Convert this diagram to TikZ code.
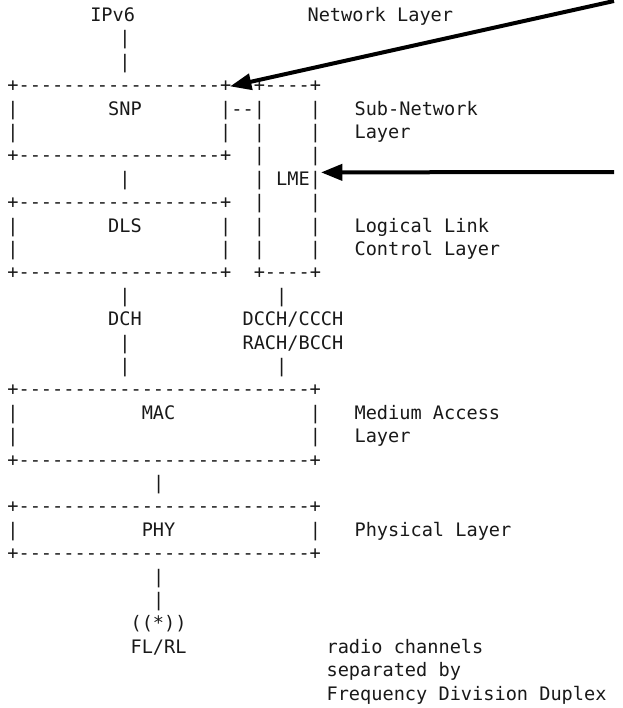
\documentclass[tikz,border=0pt]{standalone}
\usepackage{fontspec}
\setmonofont{DejaVu Sans Mono}
\usetikzlibrary{arrows.meta}
\tikzset{
  asc/.style={anchor=base west, inner sep=0pt, outer sep=0pt, text=black!90,
    font=\ttfamily\fontsize{13.95}{16}\selectfont},
  bigarrow/.style={line width=3pt, -{Triangle[length=16pt,width=12pt]}},
}
\newcommand\asc[3]{\node[asc] (r#2c#1) at ({7.4+11.2*#1},{21.5+23.4*#2}) {#3};}
\begin{document}
\begin{tikzpicture}[x=0.75pt,y=-0.75pt]
\useasboundingbox (0,0) rectangle (623,708);
% row 0
\asc{7.4}{0}{IPv6}\asc{26.8}{0}{Network Layer}
\asc{10}{1}{|}
\asc{10}{2}{|}
% SNP box and LME box
\asc{0}{3}{+------------------+}\asc{22}{3}{+----+}
\asc{0}{4}{|}\asc{9}{4}{SNP}\asc{19}{4}{|--|}\asc{27}{4}{|}\asc{31}{4}{Sub-Network}
\asc{0}{5}{|}\asc{19}{5}{|}\asc{22}{5}{|}\asc{27}{5}{|}\asc{31}{5}{Layer}
\asc{0}{6}{+------------------+}\asc{22}{6}{|}\asc{27}{6}{|}
\asc{10}{7}{|}\asc{22}{7}{|}\asc{24}{7}{LME|}
\asc{0}{8}{+------------------+}\asc{22}{8}{|}\asc{27}{8}{|}
\asc{0}{9}{|}\asc{9}{9}{DLS}\asc{19}{9}{|}\asc{22}{9}{|}\asc{27}{9}{|}\asc{31}{9}{Logical Link}
\asc{0}{10}{|}\asc{19}{10}{|}\asc{22}{10}{|}\asc{27}{10}{|}\asc{31}{10}{Control Layer}
\asc{0}{11}{+------------------+}\asc{22}{11}{+----+}
% channels
\asc{10}{12}{|}\asc{24}{12}{|}
\asc{9}{13}{DCH}\asc{21}{13}{DCCH/CCCH}
\asc{10}{14}{|}\asc{21}{14}{RACH/BCCH}
\asc{10}{15}{|}\asc{24}{15}{|}
% MAC
\asc{0}{16}{+--------------------------+}
\asc{0}{17}{|}\asc{12}{17}{MAC}\asc{27}{17}{|}\asc{31}{17}{Medium Access}
\asc{0}{18}{|}\asc{27}{18}{|}\asc{31}{18}{Layer}
\asc{0}{19}{+--------------------------+}
\asc{13}{20}{|}
% PHY
\asc{0}{21}{+--------------------------+}
\asc{0}{22}{|}\asc{12}{22}{PHY}\asc{27}{22}{|}\asc{31}{22}{Physical Layer}
\asc{0}{23}{+--------------------------+}
\asc{13}{24}{|}
\asc{13}{25}{|}
\asc{11}{26}{((*))}
\asc{11}{27}{FL/RL}\asc{28.5}{27}{radio channels}
\asc{28.5}{28}{separated by}
\asc{28.5}{29}{Frequency Division Duplex}
% arrows
\coordinate (a1) at (614,1);
\coordinate (a2) at (614,172);
\draw[bigarrow] (a1) -- ([xshift=-1pt]r3c0.east);
\draw[bigarrow] (a2) -- ([yshift=6pt]r7c24.east);
\end{tikzpicture}
\end{document}
